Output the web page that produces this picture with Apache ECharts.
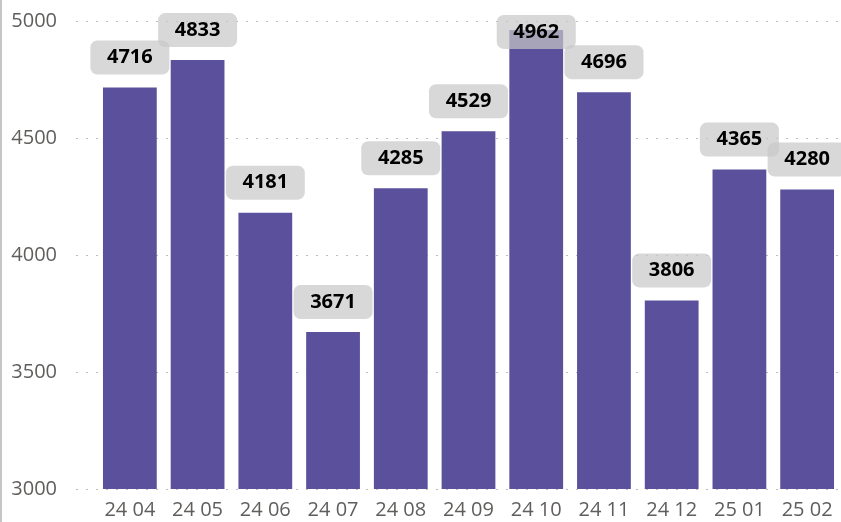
<!DOCTYPE html>
<html>
<head>
<meta charset="utf-8">
<script src="https://cdn.jsdelivr.net/npm/echarts@6/dist/echarts.min.js"></script>
<style>
  html, body { margin: 0; padding: 0; background: #fff; }
  #main { width: 839px; height: 522px; border-left: 2px solid #c6c6c6; }
</style>
</head>
<body>
<div id="main"></div>
<script>
// 月份和数值
const months = ['24 04', '24 05', '24 06', '24 07', '24 08', '24 09', '24 10', '24 11', '24 12', '25 01', '25 02'];
const values = [4716, 4833, 4181, 3671, 4285, 4529, 4962, 4696, 3806, 4365, 4280];
const yTicks = [3000, 5000, 500]; // min, max, interval

const fontFam = '"Open Sans", "Noto Sans", sans-serif';

const labelBox = {
    show: true,
    position: 'top',
    distance: 13,
    color: '#000',
    fontWeight: 'bold',
    fontSize: 20,
    fontFamily: fontFam,
    backgroundColor: 'rgba(200,200,200,0.7)',
    borderRadius: 7,
    width: 55,
    height: 20,
    lineHeight: 20,
    align: 'center',
    padding: [7, 12]
};

// 太高的柱子标签放不下，贴在顶部
const barData = values.map(v => {
    if (v > 4900) {
        return {value: v, label: {position: 'insideTop', distance: 0, offset: [0, -15]}};
    }
    return v;
});

const initChart = (option, dom) => {
    let myChart = echarts.init(document.getElementById(dom));
    myChart.setOption(option);
    window.addEventListener('resize', () => {
        myChart.resize();
    });
};

const option = {
    animation: false,
    grid: [
        {left: 74, right: 0, top: 21, bottom: 33},
        {left: 94, right: -2, top: 21, bottom: 33}
    ],
    xAxis: [
        {gridIndex: 0, type: 'category', data: months, show: false},
        {
            gridIndex: 1,
            type: 'category',
            data: months,
            axisLine: {show: false},
            axisTick: {show: false},
            axisLabel: {color: '#605e5c', fontSize: 20, fontFamily: fontFam, margin: 11}
        }
    ],
    yAxis: [
        {
            gridIndex: 0,
            type: 'value',
            min: yTicks[0],
            max: yTicks[1],
            interval: yTicks[2],
            axisLine: {show: false},
            axisTick: {show: false},
            axisLabel: {color: '#605e5c', fontSize: 20, fontFamily: fontFam, margin: 19, formatter: v => String(v)},
            splitLine: {lineStyle: {color: '#bdbdbd', type: [2, 8], width: 1}}
        },
        {gridIndex: 1, type: 'value', min: yTicks[0], max: yTicks[1], show: false}
    ],
    series: [{
        type: 'bar',
        xAxisIndex: 1,
        yAxisIndex: 1,
        data: barData,
        barCategoryGap: '20.6%',
        itemStyle: {color: '#5a509b'},
        label: labelBox
    }]
};

initChart(option, 'main');
</script>
</body>
</html>
